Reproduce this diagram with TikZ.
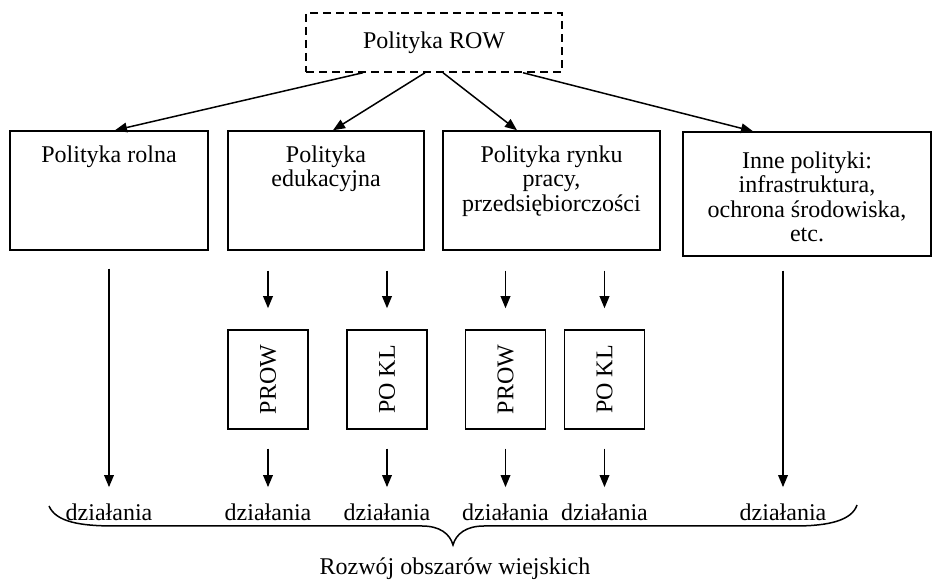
\documentclass[tikz,border=0pt]{standalone}
\usepackage{fontspec}
\setmainfont{Liberation Serif}
\usepackage{graphicx}
\usetikzlibrary{arrows.meta,calc}

\begin{document}
\begin{tikzpicture}[x=0.5pt, y=-0.5pt, line width=0.75pt,
    font=\fontsize{12}{12.2}\selectfont,
    >={Triangle[length=6pt,width=4.8pt]},
    pol/.style = {draw, minimum height=59.5pt, inner sep=0pt},
    lab/.style = {anchor=north, yshift=-4pt, align=center},
    prog/.style = {draw, minimum width=40pt, minimum height=49.5pt, inner sep=0pt}]
    \useasboundingbox (0,0) rectangle (933,581);

    % polityka ROW i polityki szczegolowe
    \node[draw, dash pattern=on 4pt off 2.5pt, minimum width=128pt, minimum height=29.5pt] (row) at (434,42.5) {Polityka ROW};
    \node[pol, minimum width=99pt, label={[lab]north:Polityka rolna}] (rolna) at (109,190.5) {};
    \node[pol, minimum width=98pt, label={[lab]north:Polityka\\edukacyjna}] (edu) at (326,190.5) {};
    \node[pol, minimum width=108.5pt, label={[lab]north:{Polityka rynku\\pracy,\\przedsiębiorczości}}] (rynek) at (551.5,190.5) {};
    \node[pol, minimum width=124pt, minimum height=62pt, label={[anchor=north, yshift=-6.5pt, align=center]north:{Inne polityki:\\infrastruktura,\\ochrona środowiska,\\etc.}}] (inne) at (807,194) {};

    % programy
    \node[prog] (prow1) at (268,379.5) {\rotatebox{90}{PROW}};
    \node[prog] (pokl1) at (387,379.5) {\rotatebox{90}{PO KL}};
    \node[prog] (prow2) at (505.5,379.5) {\rotatebox{90}{PROW}};
    \node[prog] (pokl2) at (604.5,379.5) {\rotatebox{90}{PO KL}};

    % dzialania
    \node (d1) at (109,512) {działania};
    \node (d2) at (268,512) {działania};
    \node (d3) at (387,512) {działania};
    \node (d4) at (505.5,512) {działania};
    \node (d5) at (604.5,512) {działania};
    \node (d6) at (783,512) {działania};
    \node (rozwoj) at (455,569) {Rozwój obszarów wiejskich};

    \draw[->] ($(row.south)+(-71,0)$) -- ($(rolna.north)+(6,0)$);
    \draw[->] ($(row.south)+(-9,0)$) -- ($(edu.north)+(7,0)$);
    \draw[->] ($(row.south)+(9,0)$) -- ($(rynek.north)+(-34.5,0)$);
    \draw[->] ($(row.south)+(89,0)$) -- ($(inne.north)+(-54,0)$);

    \draw[->, shorten <=9pt, shorten >=4.5pt] (rolna) -- (d1);
    \draw[->, shorten <=7pt, shorten >=4.5pt] (inne.south -| d6) -- (d6);

    \draw[->, shorten <=10pt, shorten >=10.5pt] (edu.south -| prow1) -- (prow1);
    \draw[->, shorten <=10pt, shorten >=10.5pt] (edu.south -| pokl1) -- (pokl1);
    \draw[->, shorten <=10pt, shorten >=10.5pt] (rynek.south -| prow2) -- (prow2);
    \draw[->, shorten <=10pt, shorten >=10.5pt] (rynek.south -| pokl2) -- (pokl2);
    \draw[->, shorten <=9.5pt, shorten >=4.5pt] (prow1) -- (d2);
    \draw[->, shorten <=9.5pt, shorten >=4.5pt] (pokl1) -- (d3);
    \draw[->, shorten <=9.5pt, shorten >=4.5pt] (prow2) -- (d4);
    \draw[->, shorten <=9.5pt, shorten >=4.5pt] (pokl2) -- (d5);

    % klamra
    \draw (49,506) .. controls (56,522) and (80,526) .. (115,526) -- (422,526)
        .. controls (440,526) and (450,534) .. (453,545)
        .. controls (456,534) and (466,526) .. (484,526) -- (795,526)
        .. controls (830,526) and (852,520) .. (857,505);
\end{tikzpicture}
\end{document}
